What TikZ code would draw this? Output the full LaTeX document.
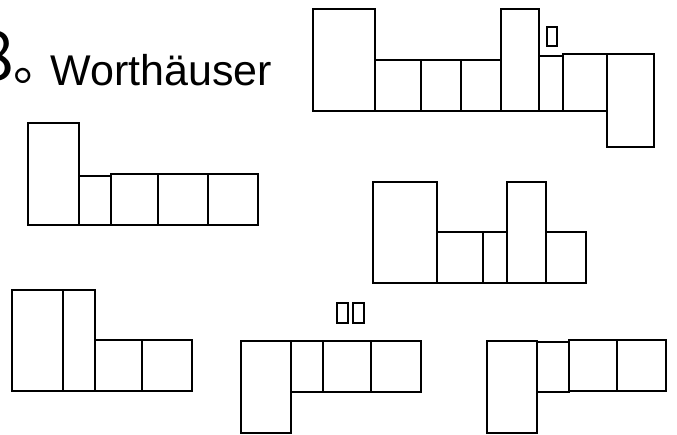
\documentclass[tikz,border=0pt]{standalone}
\usepackage{fontspec}
\setmainfont{Liberation Sans}
\newfontfamily\cjk{Noto Sans CJK SC}
\usepackage{xcolor}
\definecolor{cLine}{HTML}{000000}
\usepackage{tikz}
\tikzset{
  room/.style={draw=cLine,line width=2.1pt},
  glyph-box/.style={draw=cLine,line width=1.6pt},
  title-text/.style={font=\fontsize{43}{48}\selectfont,inner sep=0pt},
}
\newcommand{\titlenum}{\raisebox{5pt}{\cjk\fontsize{68}{72}\selectfont 8}%
  \raisebox{5pt}{\cjk\fontsize{50}{54}\selectfont 。}\hspace{-13.6pt}}

\begin{document}
\begin{tikzpicture}[x=1pt,y=-1pt]
  \useasboundingbox (0,0) rectangle (677,434);
  % title
  \node[title-text,anchor=base west] (title) at (-24,85) {\titlenum Worthäuser};

  % top right
  \draw[room] (313,9) rectangle (375,111);
  \draw[room] (375,60) rectangle (421,111);
  \draw[room] (421,60) rectangle (461,111);
  \draw[room] (461,60) rectangle (501,111);
  \draw[room] (501,9) rectangle (539,111);
  \draw[room] (539,56) rectangle (563,111);
  \draw[room] (563,54) rectangle (607,111);
  \draw[room] (607,54) rectangle (654,147);
    \draw[glyph-box] (547,27) rectangle (557,46);

  % left middle
  \draw[room] (28,123) rectangle (79,225);
  \draw[room] (79,176) rectangle (111,225);
  \draw[room] (111,174) rectangle (158,225);
  \draw[room] (158,174) rectangle (208,225);
  \draw[room] (208,174) rectangle (258,225);

  % right middle
  \draw[room] (373,182) rectangle (437,283);
  \draw[room] (437,232) rectangle (483,283);
  \draw[room] (483,232) rectangle (507,283);
  \draw[room] (507,182) rectangle (546,283);
  \draw[room] (546,232) rectangle (586,283);

  % bottom left
  \draw[room] (12,290) rectangle (63,391);
  \draw[room] (63,290) rectangle (95,391);
  \draw[room] (95,340) rectangle (142,391);
  \draw[room] (142,340) rectangle (192,391);

  % bottom middle
  \draw[room] (241,341) rectangle (291,433);
  \draw[room] (291,341) rectangle (323,392);
  \draw[room] (323,341) rectangle (371,392);
  \draw[room] (371,341) rectangle (421,392);
    \draw[glyph-box] (337,303) rectangle (348,323);
    \draw[glyph-box] (353,303) rectangle (364,323);

  % bottom right
  \draw[room] (487,341) rectangle (537,433);
  \draw[room] (537,342) rectangle (569,392);
  \draw[room] (569,340) rectangle (617,391);
  \draw[room] (617,340) rectangle (666,391);
\end{tikzpicture}
\end{document}
